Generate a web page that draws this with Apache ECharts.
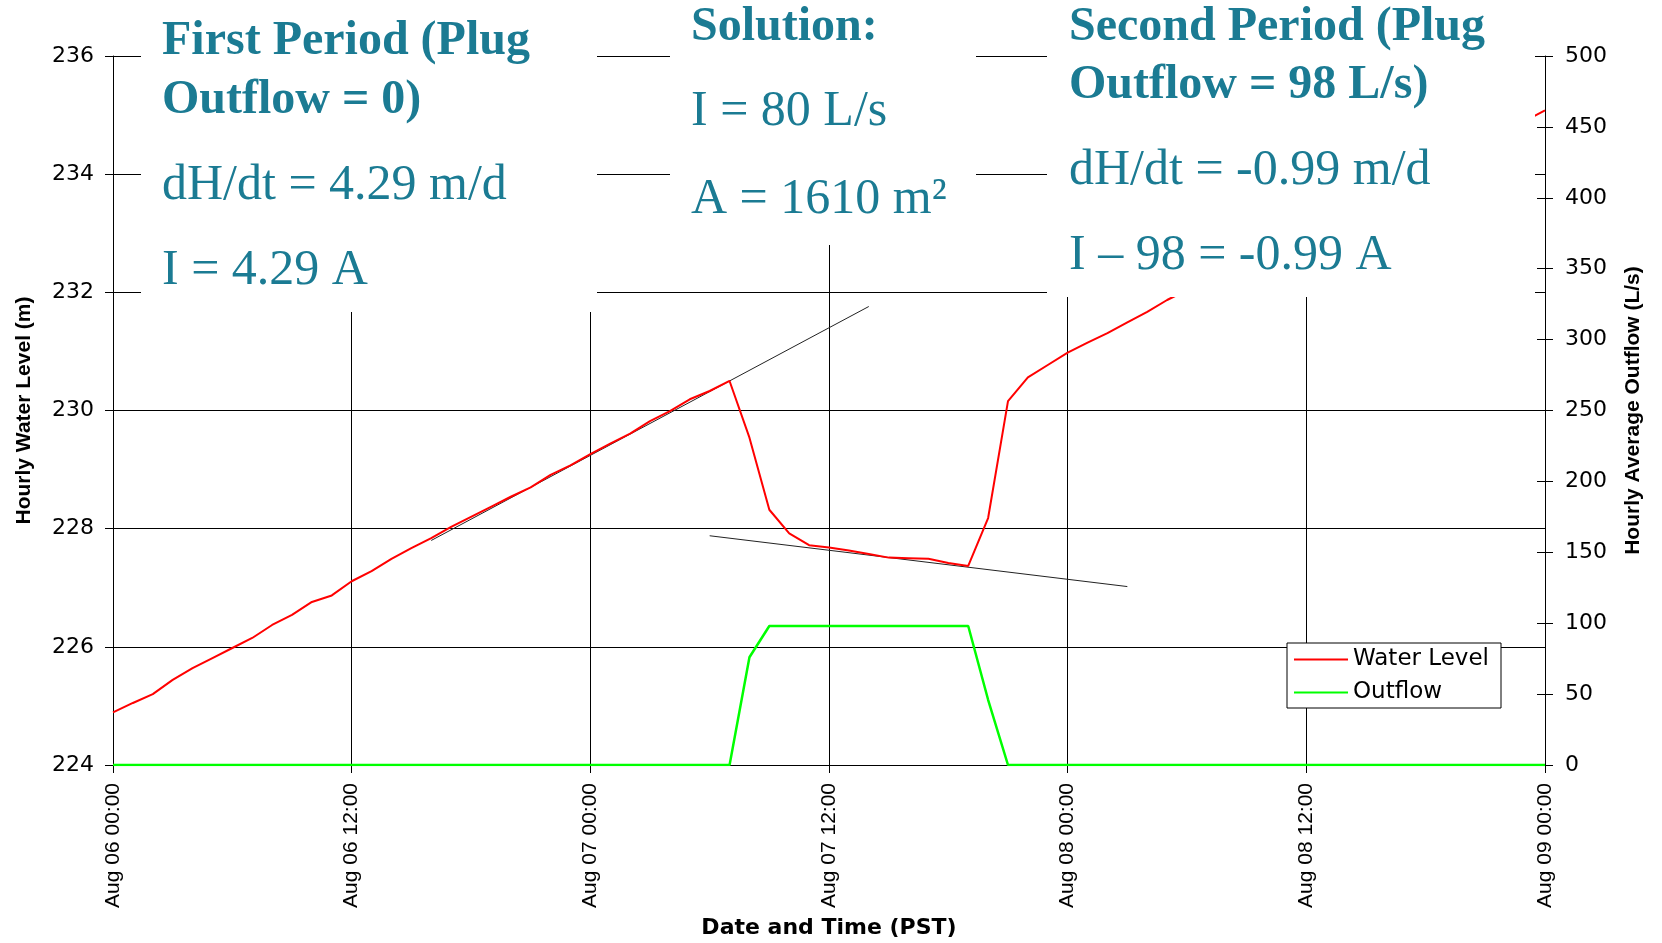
<!DOCTYPE html>
<html>
<head>
<meta charset="utf-8">
<script src="https://cdn.jsdelivr.net/npm/echarts@6/dist/echarts.min.js"></script>
<style>
html,body{margin:0;padding:0;background:#fff;}
#chart{width:1662px;height:943px;}
</style>
</head>
<body>
<div id="chart"></div>
<script>
// ---------- data (hours since Aug 06 00:00) ----------
const xTickLabels = ['Aug 06 00:00','Aug 06 12:00','Aug 07 00:00','Aug 07 12:00','Aug 08 00:00','Aug 08 12:00','Aug 09 00:00'];

const levelHours = [0,1,2,3,4,5,6,7,8,9,10,11,12,13,14,15,16,17,18,19,20,21,22,23,24,25,26,27,28,29,30,31,32,33,34,35,36,37,38,39,40,41,42,43,44,45,46,47,48,49,50,51,52,53,71,72];
const levelValues = [224.89,225.05,225.20,225.44,225.64,225.81,225.98,226.15,226.37,226.54,226.76,226.87,227.11,227.28,227.49,227.67,227.84,228.03,228.20,228.37,228.54,228.70,228.91,229.07,229.26,229.44,229.61,229.82,229.99,230.19,230.33,230.50,229.54,228.32,227.92,227.72,227.68,227.63,227.57,227.51,227.50,227.49,227.42,227.37,228.18,230.16,230.56,230.77,230.98,231.15,231.31,231.49,231.67,231.87,234.90,235.08];

const outflowValues = [0,0,0,0,0,0,0,0,0,0,0,0,0,0,0,0,0,0,0,0,0,0,0,0,0,0,0,0,0,0,0,0,76,98,98,98,98,98,98,98,98,98,98,98,46,0,0,0,0,0,0,0,0,0,0,0,0,0,0,0,0,0,0,0,0,0,0,0,0,0,0,0,0];

const trendFirstHours = [16, 38];
const trendFirstValues = [227.80, 231.76];
const trendSecondHours = [30, 51];
const trendSecondValues = [227.88, 227.02];

const firstPeriodTitle = ['First Period (Plug', 'Outflow = 0)'];
const firstPeriodBody = ['dH/dt = 4.29 m/d', 'I = 4.29 A'];
const solutionTitle = ['Solution:'];
const solutionBody = ['I = 80 L/s', 'A = 1610 m\u00B2'];
const secondPeriodTitle = ['Second Period (Plug', 'Outflow = 98 L/s)'];
const secondPeriodBody = ['dH/dt = -0.99 m/d', 'I \u2013 98 = -0.99 A'];

// ---------- build ----------
const levelData = levelHours.map((h, i) => [h, levelValues[i]]);
const outflowData = outflowValues.map((v, i) => [i, v]);
const trend1 = trendFirstHours.map((h, i) => [h, trendFirstValues[i]]);
const trend2 = trendSecondHours.map((h, i) => [h, trendSecondValues[i]]);

const TEAL = '#1b7b93';
const SERIF = '"Liberation Serif", "Times New Roman", serif';

function textEl(str, x, baseline, bold) {
  const fs = bold ? 48 : 50;
  return {
    type: 'text', z: 101,
    style: {
      text: str, x: x, y: baseline - 0.24 * fs,
      fontFamily: SERIF, fontSize: fs, fontWeight: bold ? 'bold' : 'normal',
      fill: TEAL, align: 'left', verticalAlign: 'middle'
    }
  };
}
function rectEl(x, y, w, h) {
  return { type: 'rect', z: 100, shape: {x: x, y: y, width: w, height: h}, style: {fill: '#fff'} };
}

const graphics = [
  rectEl(141, 0, 456, 312),
  rectEl(670, 0, 306, 245),
  rectEl(1047, 0, 488, 297),
  textEl(firstPeriodTitle[0], 162, 53, true),
  textEl(firstPeriodTitle[1], 162, 112, true),
  textEl(firstPeriodBody[0], 162, 198, false),
  textEl(firstPeriodBody[1], 162, 283, false),
  textEl(solutionTitle[0], 691, 39, true),
  textEl(solutionBody[0], 691, 124, false),
  textEl(solutionBody[1], 691, 212, false),
  textEl(secondPeriodTitle[0], 1069, 39, true),
  textEl(secondPeriodTitle[1], 1069, 97, true),
  textEl(secondPeriodBody[0], 1069, 183, false),
  textEl(secondPeriodBody[1], 1069, 268, false)
];

const chart = echarts.init(document.getElementById('chart'), null, {renderer: 'canvas'});
const option = {
  animation: false,
  backgroundColor: '#fff',
  grid: {left: 113, right: 117, top: 56, bottom: 178, containLabel: false, outerBoundsMode: 'none'},
  legend: {
    data: ['Water Level', 'Outflow'],
    orient: 'vertical',
    left: 1287, top: 643,
    icon: 'rect', itemWidth: 54, itemHeight: 2, itemGap: 10,
    padding: [5, 12, 4, 7],
    borderColor: '#000', borderWidth: 1, backgroundColor: '#fff',
    textStyle: {fontFamily: '"DejaVu Sans"', fontSize: 23, color: '#000'}
  },
  xAxis: {
    type: 'value', min: 0, max: 72, interval: 12,
    name: 'Date and Time (PST)', nameLocation: 'middle', nameGap: 152,
    nameTextStyle: {fontFamily: '"DejaVu Sans"', fontWeight: 'bold', fontSize: 22, color: '#000'},
    axisLine: {show: true, lineStyle: {color: '#000', width: 1}},
    axisTick: {show: true, length: 8, lineStyle: {color: '#000'}},
    axisLabel: {
      rotate: 90, margin: 18, fontFamily: '"Liberation Sans", Arial', fontSize: 21, color: '#000',
      formatter: v => xTickLabels[Math.round(v / 12)]
    },
    splitLine: {show: true, lineStyle: {color: '#000', width: 1}}
  },
  yAxis: [
    {
      type: 'value', min: 224, max: 236, interval: 2, position: 'left',
      name: 'Hourly Water Level (m)', nameLocation: 'middle', nameRotate: 90, nameGap: 78,
      nameTextStyle: {fontFamily: '"Liberation Sans", Arial', fontWeight: 'bold', fontSize: 21, color: '#000'},
      axisLine: {show: true, lineStyle: {color: '#000', width: 1}},
      axisTick: {show: true, length: 8, lineStyle: {color: '#000'}},
      axisLabel: {margin: 19, fontFamily: '"DejaVu Sans"', fontSize: 22, color: '#000'},
      splitLine: {show: true, lineStyle: {color: '#000', width: 1}}
    },
    {
      type: 'value', min: 0, max: 500, interval: 50, position: 'right',
      name: 'Hourly Average Outflow (L/s)', nameLocation: 'middle', nameRotate: 90, nameGap: 78,
      nameTextStyle: {fontFamily: '"Liberation Sans", Arial', fontWeight: 'bold', fontSize: 21, color: '#000'},
      axisLine: {show: true, lineStyle: {color: '#000', width: 1}},
      axisTick: {show: true, length: 8, lineStyle: {color: '#000'}},
      axisLabel: {margin: 20, fontFamily: '"DejaVu Sans"', fontSize: 22, color: '#000'},
      splitLine: {show: false}
    },
    {
      type: 'value', min: 0, max: 500, interval: 50, position: 'right',
      axisLine: {show: false},
      axisTick: {show: true, inside: true, length: 8, lineStyle: {color: '#000'}},
      axisLabel: {show: false},
      splitLine: {show: false}
    }
  ],
  series: [
    {
      name: 'Trend 1', type: 'line', yAxisIndex: 0, data: trend1, symbol: 'none',
      lineStyle: {color: '#222', width: 1}, itemStyle: {color: '#222'}, z: 3
    },
    {
      name: 'Trend 2', type: 'line', yAxisIndex: 0, data: trend2, symbol: 'none',
      lineStyle: {color: '#222', width: 1}, itemStyle: {color: '#222'}, z: 3
    },
    {
      name: 'Water Level', type: 'line', yAxisIndex: 0, data: levelData, symbol: 'none',
      lineStyle: {color: '#ff0000', width: 2}, itemStyle: {color: '#ff0000'}, z: 4
    },
    {
      name: 'Outflow', type: 'line', yAxisIndex: 1, data: outflowData, symbol: 'none',
      lineStyle: {color: '#00ff00', width: 2.5}, itemStyle: {color: '#00ff00'}, z: 4
    }
  ],
  graphic: graphics
};
chart.setOption(option);
</script>
</body>
</html>
